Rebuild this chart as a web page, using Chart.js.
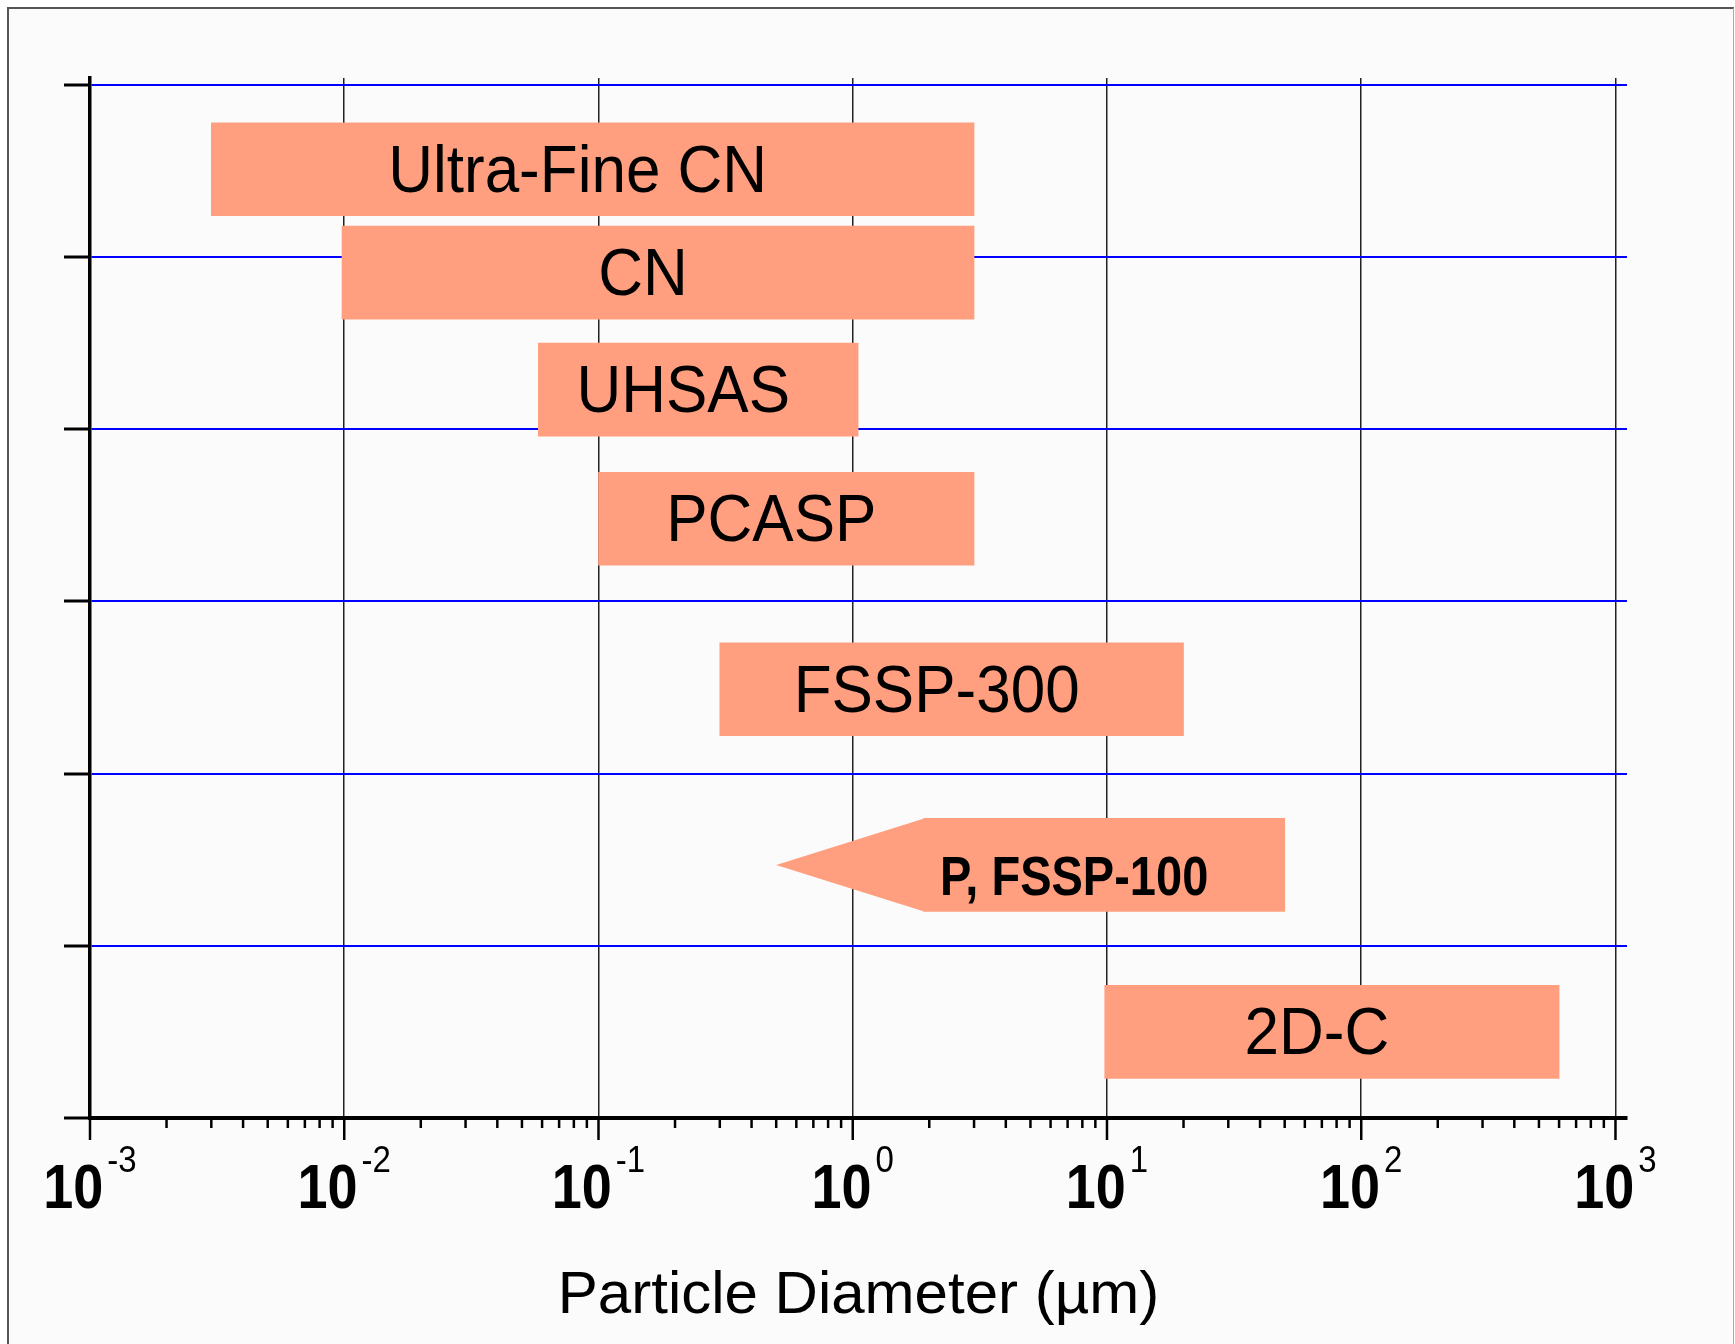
<!DOCTYPE html>
<html>
<head>
<meta charset="utf-8">
<script src="https://cdn.jsdelivr.net/npm/chart.js@4"></script>
<style>
  html, body { margin:0; padding:0; background:#fff; overflow:hidden; }
  #frame { position:absolute; left:7px; top:7px; width:1724px; height:1400px; background:#fbfbfb;
           border-left:2px solid #555; border-top:2px solid #555; border-right:1px solid #aaa; }
  #wrap { position:absolute; left:0; top:0; width:1735px; height:1344px; }
</style>
</head>
<body>
<div id="frame"></div>
<div id="wrap"><canvas id="rangeChart"></canvas></div>
<script>
// Instrument size ranges (µm)
const instruments = ["Ultra-Fine CN", "CN", "UHSAS", "PCASP", "FSSP-300", "P, FSSP-100", "2D-C"];
const sizeMin = [0.003, 0.0098, 0.058, 0.1, 0.3, 1.9, 9.8];
const sizeMax = [3, 3, 1.05, 3, 20, 50, 600];
const arrowTip = [null, null, null, null, null, 0.5, null];
const rowPos = [5.51, 4.91, 4.23, 3.48, 2.49, 1.47, 0.50];

// axis ticks
const decades = [-3, -2, -1, 0, 1, 2, 3];
const minorSteps = [2, 3, 4, 5, 6, 7, 8, 9];
const rowTicks = [0, 1, 2, 3, 4, 5, 6];

const barColor = "#ff9f80";
const FONT = "'Liberation Sans', Arial, sans-serif";

const xTicks = [];
decades.forEach(e => {
    xTicks.push({value: Math.pow(10, e), major: true});
    if (e < decades[decades.length - 1]) {
        minorSteps.forEach(m => xTicks.push({value: m * Math.pow(10, e), major: false}));
    }
});

// arrow head, bar names, log ticks with superscript labels
const painter = {
    id: "painter",
    afterDatasetsDraw(chart) {
        const {ctx, scales: {x}} = chart;
        const meta = chart.getDatasetMeta(0);
        meta.data.forEach((bar, i) => {
            const p = bar.getProps(["x", "y", "base", "height"], true);
            const left = Math.min(p.x, p.base), right = Math.max(p.x, p.base);
            ctx.save();
            if (arrowTip[i] != null) {
                const tip = x.getPixelForValue(arrowTip[i]);
                ctx.fillStyle = barColor;
                ctx.beginPath();
                ctx.moveTo(left + 0.5, p.y - p.height / 2);
                ctx.lineTo(tip, p.y);
                ctx.lineTo(left + 0.5, p.y + p.height / 2);
                ctx.closePath();
                ctx.fill();
            }
            const arrow = arrowTip[i] != null;
            const size = arrow ? 47 : 62;
            const stretch = arrow ? 1.2 : 1.08;
            ctx.fillStyle = "#000";
            ctx.font = (arrow ? "bold " : "") + size + "px " + FONT;
            ctx.textAlign = "center";
            ctx.textBaseline = "alphabetic";
            ctx.translate((left + right) / 2 - (arrow ? 30 : 15), p.y + (arrow ? 30 : 22.5));
            ctx.scale(1, stretch);
            ctx.fillText(instruments[i], 0, 0);
            ctx.restore();
        });
    },
    afterDraw(chart) {
        const {ctx, chartArea, scales: {x}} = chart;
        const yb = chartArea.bottom;
        ctx.save();
        ctx.strokeStyle = "#000";
        ctx.lineWidth = 2.5;
        x.ticks.forEach(t => {
            const px = x.getPixelForValue(t.value);
            ctx.beginPath();
            ctx.moveTo(px, yb);
            ctx.lineTo(px, yb + (t.major ? 22 : 10));
            ctx.stroke();
        });
        ctx.fillStyle = "#000";
        ctx.textBaseline = "alphabetic";
        ctx.textAlign = "left";
        x.ticks.filter(t => t.major).forEach(t => {
            const px = x.getPixelForValue(t.value);
            const e = Math.round(Math.log10(t.value));
            const sup = e < 0 ? "-" + (-e) : String(e);
            ctx.font = "bold 54px " + FONT;
            const wb = ctx.measureText("10").width;
            ctx.font = "33px " + FONT;
            const ws = ctx.measureText(sup).width;
            const x0 = px - (wb + 4 + ws) / 2;
            ctx.save();
            ctx.translate(x0, yb + 89.5);
            ctx.scale(1, 1.15);
            ctx.font = "bold 54px " + FONT;
            ctx.fillText("10", 0, 0);
            ctx.restore();
            ctx.save();
            ctx.translate(x0 + wb + 4, yb + 53.5);
            ctx.scale(1, 1.1);
            ctx.font = "33px " + FONT;
            ctx.fillText(sup, 0, 0);
            ctx.restore();
        });
        ctx.restore();
    }
};

new Chart(
document.getElementById("rangeChart"),
{
    type: "bar",

    data: {
        datasets: [{
            data: instruments.map((n, i) => ({x: [sizeMin[i], sizeMax[i]], y: rowPos[i]})),
            backgroundColor: barColor,
            borderWidth: 0,
            barThickness: 93
        }]
    },

    options: {
        indexAxis: "y",
        responsive: true,
        maintainAspectRatio: false,
        animation: false,
        layout: {padding: {left: 90, top: 78, right: 108, bottom: 0}},
        plugins: {
            legend: {display: false},
            tooltip: {enabled: false}
        },
        scales: {
            x: {
                type: "logarithmic",
                min: 0.001,
                max: 1110,
                offset: false,
                afterBuildTicks: s => { s.ticks = xTicks.map(t => ({...t})); },
                afterFit: s => { s.height = 226; },
                ticks: {display: false, autoSkip: false},
                grid: {
                    offset: false,
                    color: c => (c.tick && c.tick.major) ? "#222" : "rgba(0,0,0,0)",
                    lineWidth: 1.5,
                    drawTicks: false
                },
                border: {display: true, color: "#000", width: 4},
                title: {
                    display: true,
                    text: "Particle Diameter (µm)",
                    color: "#000",
                    font: {family: FONT, size: 60},
                    padding: {top: 0, bottom: 12}
                }
            },
            y: {
                type: "linear",
                min: 0,
                max: 6.04,
                offset: false,
                afterBuildTicks: s => { s.ticks = rowTicks.map(v => ({value: v})); },
                afterFit: s => { s.width = 0; },
                ticks: {display: false},
                grid: {
                    offset: false,
                    color: c => (c.tick && c.tick.value > 0) ? "#0000ff" : "rgba(0,0,0,0)",
                    lineWidth: 2,
                    drawTicks: true,
                    tickLength: 26,
                    tickColor: "#000",
                    tickWidth: 3
                },
                border: {display: true, color: "#000", width: 3.5}
            }
        }
    },

    plugins: [painter]
});
</script>
</body>
</html>
